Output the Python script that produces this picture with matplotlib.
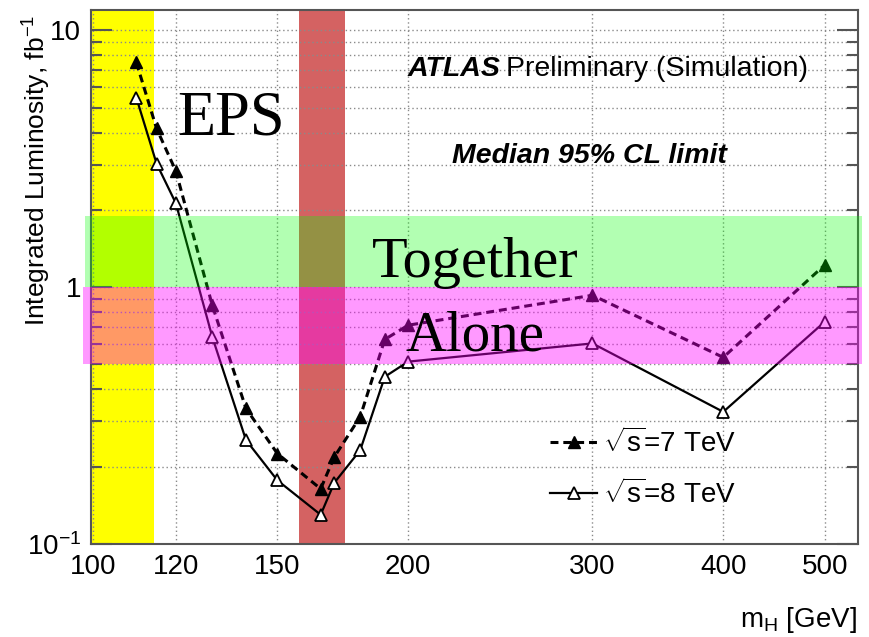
import numpy as np
import matplotlib
matplotlib.use("Agg")
import matplotlib.pyplot as plt
from matplotlib.ticker import FixedLocator, LogLocator, NullFormatter, NullLocator

# data
mass = [110, 115, 120, 130, 140, 150, 165, 170, 180, 190, 200, 300, 400, 500]
lumi_7tev = [7.5, 4.15, 2.83, 0.85, 0.337, 0.225, 0.164, 0.218, 0.313, 0.626, 0.711, 0.93, 0.533, 1.22]
lumi_8tev = [5.47, 3.03, 2.12, 0.64, 0.254, 0.177, 0.130, 0.173, 0.232, 0.448, 0.513, 0.604, 0.327, 0.733]

x_ticks = [100, 120, 150, 200, 300, 400, 500]
x_tick_labels = ["100", "120", "150", "200", "300", "400", "500"]
y_ticks = [0.1, 1, 10]
y_tick_labels = ["$10^{-1}$", "1", "10"]

lep_limit = 114.4
tevatron_range = (157.3, 174.0)
together_band = (1.0, 1.9)
alone_band = (0.5, 1.0)

plt.rcParams["font.family"] = ["Liberation Sans", "DejaVu Sans"]
plt.rcParams["mathtext.fontset"] = "custom"
plt.rcParams["mathtext.rm"] = "Liberation Sans"
plt.rcParams["mathtext.it"] = "Liberation Sans:italic"
plt.rcParams["mathtext.bf"] = "Liberation Sans:bold"

W, H = 869, 637


def px(x, y):
    return x / W, 1 - y / H


fig = plt.figure(figsize=(W / 100, H / 100), dpi=100)
ax = fig.add_axes([91 / W, 1 - 544 / H, (858 - 91) / W, (544 - 10) / H])
ax.set_xscale("log")
ax.set_yscale("log")
ax.set_xlim(99.56, 538)
ax.set_ylim(0.1, 12)

# excluded regions
ax.axvspan(ax.get_xlim()[0], lep_limit, color="#ffff00", lw=0, zorder=1)
ax.axvspan(*tevatron_range, color="#d46262", lw=0, zorder=1)

l7, = ax.plot(mass, lumi_7tev, color="black", lw=2.2, ls=(0, (2.6, 1.6)),
              marker="^", ms=9, mfc="black", mec="black", zorder=2)
l8, = ax.plot(mass, lumi_8tev, color="black", lw=1.6, ls="-",
              marker="^", ms=9, mfc="white", mec="black", mew=1.3, zorder=2)

# overlay bands on top of the curves
ax.axhspan(*together_band, xmin=-0.008, xmax=1.005, color=(0, 1, 0), alpha=0.3,
           lw=0, zorder=3, clip_on=False)
ax.axhspan(*alone_band, xmin=-0.01, xmax=1.005, color=(1, 0, 1), alpha=0.4,
           lw=0, zorder=3, clip_on=False)

ax.xaxis.set_major_locator(FixedLocator(x_ticks))
ax.xaxis.set_minor_locator(NullLocator())
ax.set_xticklabels(x_tick_labels)
ax.set_yticks(y_ticks)
ax.set_yticklabels(y_tick_labels)
ax.yaxis.set_minor_locator(LogLocator(base=10, subs=np.arange(2, 10)))
ax.yaxis.set_minor_formatter(NullFormatter())

ax.tick_params(axis="x", which="both", length=0, pad=7, labelsize=20)
ax.tick_params(axis="y", which="major", direction="in", length=15, width=1.5,
               left=True, right=True, pad=7, labelsize=20, color="#555555")
ax.tick_params(axis="y", which="minor", direction="in", length=8, width=1.5,
               left=True, right=True, color="#555555")

grid_style = dict(ls=(0, (1, 2)), color="#8a8a8a", lw=1.0)
ax.grid(True, which="major", axis="x", **grid_style)
ax.grid(True, which="both", axis="y", **grid_style)

for s in ax.spines.values():
    s.set_color("#555555")
    s.set_linewidth(1.5)

ax.legend(handles=[l7, l8],
          labels=[r"$\sqrt{\mathrm{s}}$=7 TeV", r"$\sqrt{\mathrm{s}}$=8 TeV"],
          loc="upper left", bbox_to_anchor=px(550, 428), bbox_transform=fig.transFigure,
          frameon=False, fontsize=20, handlelength=1.7, handletextpad=0.2,
          labelspacing=0.75, borderpad=0, borderaxespad=0)

fig.text(*px(408, 76), "ATLAS", fontsize=20.5, fontweight="bold", fontstyle="italic",
         va="baseline", zorder=5)
fig.text(*px(506, 76), "Preliminary (Simulation)", fontsize=20.5, va="baseline", zorder=5)
fig.text(*px(452, 163), "Median 95% CL limit", fontsize=20.5, fontweight="bold",
         fontstyle="italic", va="baseline", zorder=5)

fig.text(*px(177, 135), "EPS", family="Liberation Serif", fontsize=45, va="baseline", zorder=5)
fig.text(*px(372, 277), "Together", family="Liberation Serif", fontsize=42, va="baseline", zorder=5)
fig.text(*px(405, 350), "Alone", family="Liberation Serif", fontsize=41, va="baseline", zorder=5)

fig.text(*px(37, 15), r"Integrated Luminosity, fb$^{-1}$", fontsize=19, rotation=90,
         ha="center", va="top")
fig.text(*px(857, 627), r"m$_{\mathrm{H}}$ [GeV]", fontsize=20, ha="right", va="baseline")

fig.savefig("out.png", dpi=100)
